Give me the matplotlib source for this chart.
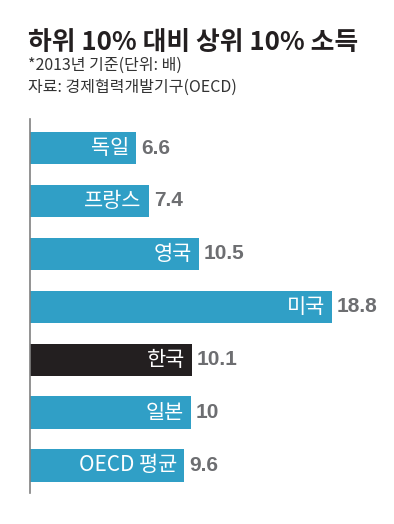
import matplotlib
matplotlib.use("Agg")
import matplotlib.pyplot as plt
from matplotlib import transforms

plt.rcParams['font.family'] = ['Noto Sans CJK KR', 'DejaVu Sans']

countries = ['독일', '프랑스', '영국', '미국', '한국', '일본', 'OECD 평균']
ratios = [6.6, 7.4, 10.5, 18.8, 10.1, 10, 9.6]
value_labels = ['6.6', '7.4', '10.5', '18.8', '10.1', '10', '9.6']
highlight = '한국'

blue = '#309fc6'
dark = '#231f20'
gray = '#6d6e71'

W, H = 394, 524
fig = plt.figure(figsize=(W / 100, H / 100), dpi=100)
ax = fig.add_axes([30 / W, 1 - 493 / H, 321 / W, (493 - 119) / H])

ypos = list(range(len(countries)))
colors = [dark if c == highlight else blue for c in countries]
ax.barh(ypos, ratios, height=0.61, color=colors, left=0)
ax.set_xlim(0, 20)
ax.set_ylim(len(countries) - 1 + 0.52, -0.55)

for y, v, name, lab in zip(ypos, ratios, countries, value_labels):
    t_in = transforms.offset_copy(ax.transData, fig=fig, x=-7, y=0, units='dots')
    ax.text(v, y, name, transform=t_in, ha='right', va='center',
            color='white', fontsize=15)
    t_out = transforms.offset_copy(ax.transData, fig=fig, x=5, y=0, units='dots')
    ax.text(v, y, lab, transform=t_out, ha='left', va='center',
            color=gray, fontsize=15, fontweight='bold',
            family=['Liberation Sans', 'DejaVu Sans'])

for s in ['top', 'right', 'bottom']:
    ax.spines[s].set_visible(False)
ax.spines['left'].set_color('#808080')
ax.spines['left'].set_linewidth(1.2)
ax.set_xticks([])
ax.set_yticks([])

fig.text(28 / W, 1 - 50 / H, '하위 10% 대비 상위 10% 소득', fontsize=18.6,
         fontweight='bold', color=dark, ha='left', va='baseline')
fig.text(28 / W, 1 - 70 / H, '*2013년 기준(단위: 배)', fontsize=11.5,
         color='#333333', ha='left', va='baseline')
fig.text(28 / W, 1 - 92 / H, '자료: 경제협력개발기구(OECD)', fontsize=11.5,
         color='#333333', ha='left', va='baseline')

fig.savefig('out.png', dpi=100)
